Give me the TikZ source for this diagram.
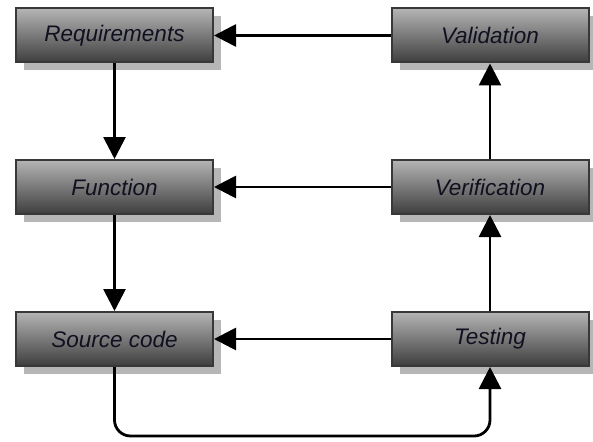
\documentclass[tikz,border=0pt]{standalone}
\usepackage{fontspec}
\setmainfont{Liberation Sans}
\usetikzlibrary{arrows.meta,shadows}
\definecolor{boxtop}{HTML}{B4B4B4}
\definecolor{boxbottom}{HTML}{3E3E3E}
\definecolor{boxline}{HTML}{383838}
\definecolor{shadowgray}{HTML}{B6B6B6}
\definecolor{labeltext}{HTML}{101020}
\tikzset{
  stagebox/.style={
    rectangle, draw=boxline, line width=2pt,
    top color=boxtop, bottom color=boxbottom,
    minimum width=197pt, minimum height=54pt, inner sep=0pt,
    font=\fontsize{22.5}{26}\selectfont\itshape, text=labeltext,
    drop shadow={shadow xshift=8pt, shadow yshift=-8pt, fill=shadowgray, opacity=1}
  },
  flow/.style={line width=2.8pt, draw=black,
    -{Triangle[length=22pt,width=22pt]}, rounded corners=16pt}
}
\begin{document}
\begin{tikzpicture}[x=1pt,y=-1pt]
  \useasboundingbox (0,0) rectangle (593,441);
  % left column
  \node[stagebox] (req) at (114.5,35.5) {Requirements};
  \node[stagebox] (fun) at (114.5,187) {Function};
  \node[stagebox] (src) at (114.5,339) {Source code};
  % right column
  \node[stagebox] (val) at (490,35.5) {Validation};
  \node[stagebox] (ver) at (490,187) {Verification};
  \node[stagebox] (tst) at (490,339) {Testing};
  % horizontal feedback
  \draw[flow] (val.west) -- (req.east);
  \draw[flow] (ver.west) -- (fun.east);
  \draw[flow] (tst.west) -- (src.east);
  % downward on the left
  \draw[flow] (req.south) -- (fun.north);
  \draw[flow] (fun.south) -- (src.north);
  % upward on the right
  \draw[flow] (tst.north) -- (ver.south);
  \draw[flow] (ver.north) -- (val.south);
  % loop from source code to testing
  \coordinate (lowL) at (src.south |- 0,436);
  \coordinate (lowR) at (tst.south |- 0,436);
  \draw[flow] (src.south) -- (lowL) -- (lowR) -- (tst.south);
\end{tikzpicture}
\end{document}
